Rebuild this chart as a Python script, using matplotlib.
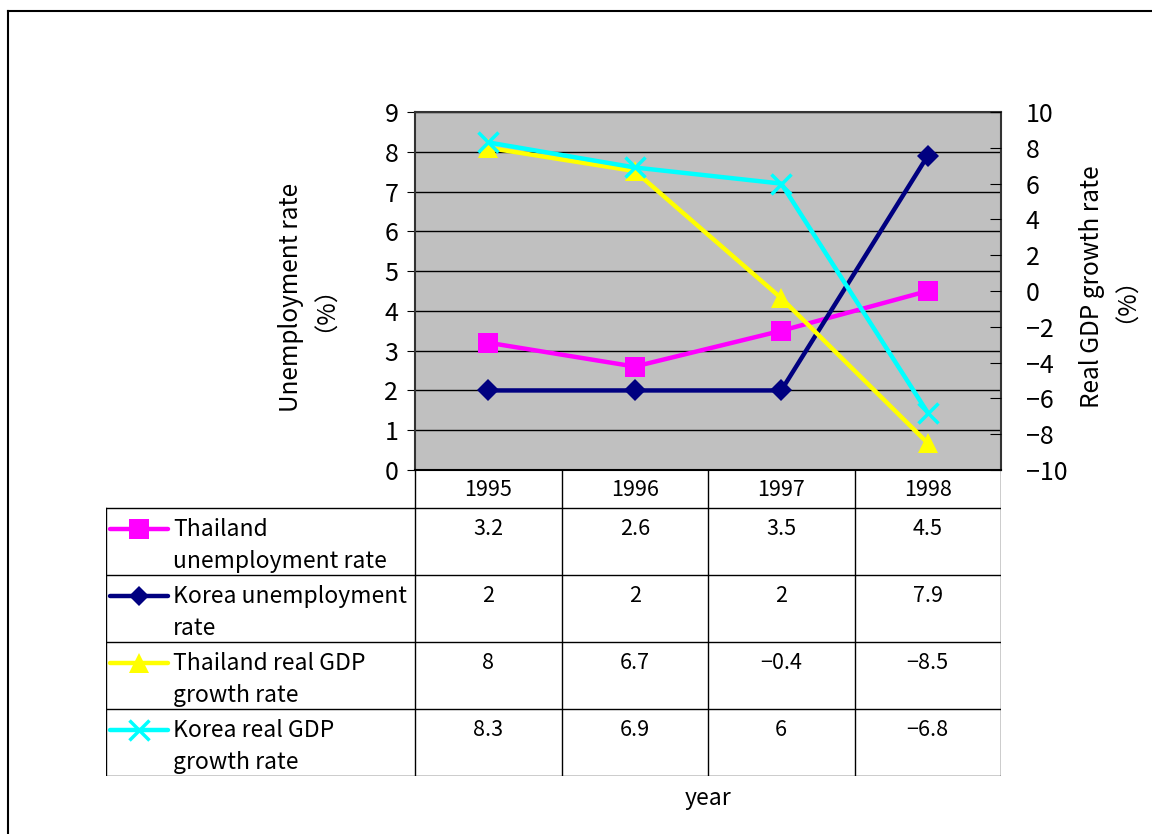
import matplotlib.pyplot as plt
import numpy as np

plt.rcParams['font.family'] = ['Noto Sans CJK JP', 'DejaVu Sans']

years = ["1995", "1996", "1997", "1998"]
thai_unemp = [3.2, 2.6, 3.5, 4.5]
korea_unemp = [2, 2, 2, 7.9]
thai_gdp = [8, 6.7, -0.4, -8.5]
korea_gdp = [8.3, 6.9, 6, -6.8]

labels = ["Thailand\nunemployment rate", "Korea unemployment\nrate",
          "Thailand real GDP\ngrowth rate", "Korea real GDP\ngrowth rate"]
colors = ["#FF00FF", "#000080", "#FFFF00", "#00FFFF"]
markers = ["s", "D", "^", "x"]
msizes = [15, 11, 15, 15]

W, H = 1152, 834


def fx(px):
    return px / W


def fy(py):
    return 1 - py / H


fig = plt.figure(figsize=(W / 100, H / 100), dpi=100)

# Frame around the chart area
fig.add_artist(plt.Line2D([fx(8), 1], [fy(11), fy(11)], color="black", lw=1.5))
fig.add_artist(plt.Line2D([fx(8), fx(8)], [fy(11), 0], color="black", lw=1.5))

# Main plot
ax_l, ax_r, ax_t, ax_b = 415, 1001, 112, 470
ax = fig.add_axes([fx(ax_l), fy(ax_b), fx(ax_r - ax_l), fy(ax_t) - fy(ax_b)])
ax.set_facecolor("#C0C0C0")
x = np.arange(len(years))
ax.set_xlim(-0.5, len(years) - 0.5)
ax.set_ylim(0, 9)
ax.set_yticks(range(0, 10))
ax.set_xticks([])
ax.grid(axis="y", color="black", lw=1)
ax.set_axisbelow(True)
ax.tick_params(axis="y", labelsize=18, length=6, direction="out", pad=6)
for s in ax.spines.values():
    s.set_color("#333333")
    s.set_linewidth(1.5)
ax.spines["bottom"].set_color("black")

ax2 = ax.twinx()
ax2.set_ylim(-10, 10)
ax2.set_yticks(range(-10, 11, 2))
ax2.set_yticklabels([f"{v}".replace("-", "\u2212") for v in range(-10, 11, 2)])
ax2.tick_params(axis="y", labelsize=18, length=8, direction="in", pad=18)
for s in ax2.spines.values():
    s.set_visible(False)

series = [thai_unemp, korea_unemp, thai_gdp, korea_gdp]
axes_for = [ax, ax, ax2, ax2]
for vals, a, c, m, ms in zip(series, axes_for, colors, markers, msizes):
    kw = dict(markeredgewidth=2.5) if m == "x" else dict(markeredgewidth=0)
    a.plot(x, vals, color=c, lw=3.2, marker=m, markersize=ms,
           markerfacecolor=c, markeredgecolor=c, clip_on=False, **kw)

fig.text(fx(302), fy(297), "Unemployment rate\n（%）", rotation=90, fontsize=17.5,
         ha="center", va="center", multialignment="center", linespacing=0.76)
fig.text(fx(1103), fy(287), "Real GDP growth rate\n（%）", rotation=90,
         fontsize=17.5, ha="center", va="center", multialignment="center",
         linespacing=0.76)

# Data table below the plot
tb_l, tb_t, tb_b = 106, 470, 776
unit = (ax_r - ax_l) / len(years)
x0 = -0.5 - (ax_l - tb_l) / unit
tab = fig.add_axes([fx(tb_l), fy(tb_b), fx(ax_r - tb_l), fy(tb_t) - fy(tb_b)])
tab.set_xlim(x0, len(years) - 0.5)
tab.set_ylim(tb_b - tb_t, 0)
tab.axis("off")

head_h, row_h = 38, 67
lc = dict(color="black", lw=1)
for i in range(len(years) + 1):
    tab.plot([i - 0.5, i - 0.5], [0, head_h + row_h * len(labels)], **lc)
tab.plot([x0, x0], [head_h, head_h + row_h * len(labels)], **lc)
for r in range(len(labels) + 1):
    y = head_h + r * row_h
    tab.plot([x0, len(years) - 0.5], [y, y], **lc)

for i, yr in enumerate(years):
    tab.text(i, head_h / 2 + 1, yr, ha="center", va="center", fontsize=15.5)

for r, (lab, vals, c, m, ms) in enumerate(zip(labels, series, colors, markers, msizes)):
    top = head_h + r * row_h
    # legend key
    sx0 = x0 + 4 / unit
    sx1 = x0 + 62 / unit
    kw = dict(markeredgewidth=2.5) if m == "x" else dict(markeredgewidth=0)
    tab.plot([sx0, sx1], [top + 21, top + 21], color=c, lw=3.2,
             solid_capstyle="round")
    tab.plot([(sx0 + sx1) / 2], [top + 21], marker=m, markersize=ms - 1,
             color=c, markerfacecolor=c, markeredgecolor=c, **kw)
    tab.text(x0 + 67 / unit, top + 10, lab, ha="left", va="top", fontsize=16.5,
             linespacing=1.5)
    for i, v in enumerate(vals):
        tab.text(i, top + 21, f"{v:g}".replace("-", "\u2212"), ha="center",
                 va="center", fontsize=15.5)

fig.text(fx(708), fy(799), "year", ha="center", va="center", fontsize=16.5)

fig.savefig("out.png", dpi=100)
